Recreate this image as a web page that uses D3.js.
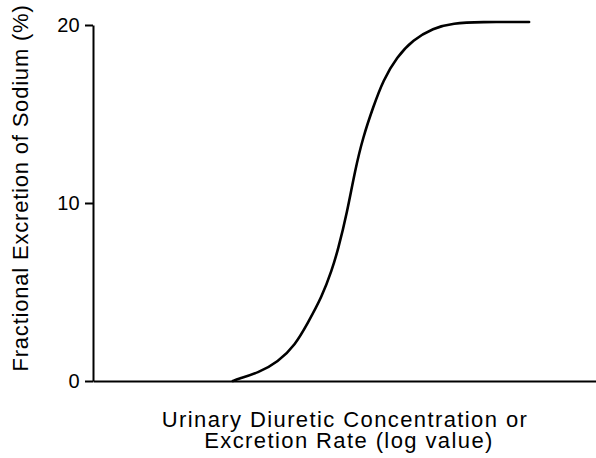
<!DOCTYPE html>
<html>
<head>
<meta charset="utf-8">
<script src="https://cdn.jsdelivr.net/npm/d3@7"></script>
<style>
  body { margin: 0; background: #fff; }
  text { font-family: "Liberation Sans", Arial, sans-serif; fill: #000; }
</style>
</head>
<body>
<div id="chart"></div>
<script>
// curve (x: arbitrary log units 0-100, y: % FENa)
const doseX = [27.8, 28.8, 32.8, 36.8, 40.2, 42.7, 45.5, 47.5, 48.7, 50.5, 52.1, 53.7, 55.7, 57.7, 60.4, 63.6, 67.6, 71.6, 76.9, 86.7];
const feNa  = [0, 0.11, 0.45, 1.07, 2.02, 3.26, 4.72, 6.24, 7.36, 9.44, 11.85, 13.71, 15.39, 16.91, 18.2, 19.16, 19.83, 20.11, 20.17, 20.17];
const yTicks = [0, 10, 20];

const width = 596;
const height = 458;
const margin = { top: 25, bottom: 77, left: 93, right: 0 };
const innerWidth = width - margin.left - margin.right;
const innerHeight = height - margin.top - margin.bottom;

const data = doseX.map((x, i) => ({ x: x, y: feNa[i] }));

const xScale = d3.scaleLinear().domain([0, 100]).range([0, innerWidth]);
const yScale = d3.scaleLinear().domain([0, 20]).range([innerHeight, 0]);

const svg = d3.select("#chart")
  .append("svg")
  .attr("width", width)
  .attr("height", height);

const g = svg.append("g")
  .attr("transform", `translate(${margin.left},${margin.top})`);

// y axis
g.append("g")
  .call(d3.axisLeft(yScale).tickValues(yTicks).tickSize(8).tickPadding(5).tickSizeOuter(0))
  .call((ax) => {
    ax.select(".domain").attr("stroke", "#000").attr("stroke-width", 2);
    ax.selectAll(".tick line").attr("stroke", "#000").attr("stroke-width", 2);
    ax.selectAll("text")
      .attr("font-size", 20)
      .attr("letter-spacing", 0.3)
      .attr("font-family", "Liberation Sans, Arial, sans-serif");
  });

// x axis (plain line)
g.append("g")
  .attr("transform", `translate(0,${innerHeight})`)
  .call(d3.axisBottom(xScale).tickValues([]).tickSizeOuter(0))
  .call((ax) => {
    ax.select(".domain").attr("stroke", "#000").attr("stroke-width", 2);
  });

// curve
const line = d3.line()
  .x((d) => xScale(d.x))
  .y((d) => yScale(d.y))
  .curve(d3.curveBasis);

g.append("path")
  .datum(data)
  .attr("fill", "none")
  .attr("stroke", "#000")
  .attr("stroke-width", 2.6)
  .attr("stroke-linecap", "round")
  .attr("d", line);

// axis titles
svg.append("text")
  .attr("transform", `translate(28,188) rotate(-90)`)
  .attr("text-anchor", "middle")
  .attr("font-size", 22)
  .attr("letter-spacing", 0.8)
  .text("Fractional Excretion of Sodium (%)");

const xt = svg.append("text")
  .attr("text-anchor", "middle")
  .attr("font-size", 22)
  .attr("letter-spacing", 1.4);
xt.append("tspan").attr("x", 345).attr("y", 427).text("Urinary Diuretic Concentration or");
xt.append("tspan").attr("x", 349).attr("y", 448).text("Excretion Rate (log value)");
</script>
</body>
</html>
